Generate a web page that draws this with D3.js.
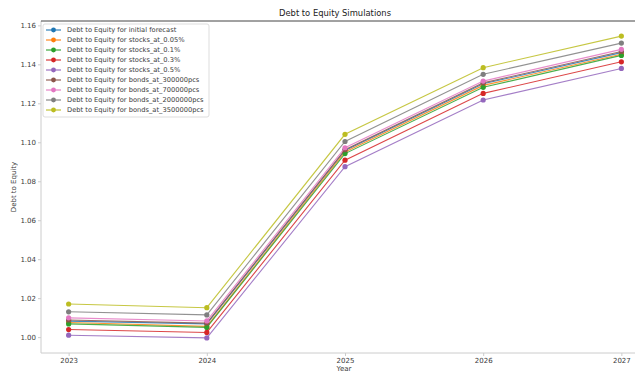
<!DOCTYPE html>
<html>
<head>
<meta charset="utf-8">
<script src="https://cdn.jsdelivr.net/npm/d3@7/dist/d3.min.js"></script>
<style>
  body { margin: 0; background: #fff; }
  svg { display: block; font-family: "DejaVu Sans", sans-serif; }
</style>
</head>
<body>
<svg id="chart" width="635" height="372"></svg>
<script>
// Years on the x axis
const years = [2023, 2024, 2025, 2026, 2027];

// Legend labels, one per simulation
const seriesNames = [
  "Debt to Equity for initial forecast",
  "Debt to Equity for stocks_at_0.05%",
  "Debt to Equity for stocks_at_0.1%",
  "Debt to Equity for stocks_at_0.3%",
  "Debt to Equity for stocks_at_0.5%",
  "Debt to Equity for bonds_at_300000pcs",
  "Debt to Equity for bonds_at_700000pcs",
  "Debt to Equity for bonds_at_2000000pcs",
  "Debt to Equity for bonds_at_3500000pcs"
];

// Debt-to-equity ratio per simulation, by year
const initialForecast = [1.0082, 1.0068, 1.0958, 1.1300, 1.1460];
const stocks005 = [1.0075, 1.0055, 1.0950, 1.1292, 1.1452];
const stocks01 = [1.0068, 1.0050, 1.0942, 1.1282, 1.1446];
const stocks03 = [1.0039, 1.0024, 1.0908, 1.1251, 1.1413];
const stocks05 = [1.0010, 0.9996, 1.0875, 1.1217, 1.1379];
const bonds300k = [1.0088, 1.0072, 1.0962, 1.1305, 1.1466];
const bonds700k = [1.0099, 1.0083, 1.0972, 1.1314, 1.1477];
const bonds2m = [1.0130, 1.0114, 1.1004, 1.1349, 1.1509];
const bonds3500k = [1.0170, 1.0151, 1.1041, 1.1383, 1.1545];

// Y tick values
const yTicks = [1.00, 1.02, 1.04, 1.06, 1.08, 1.10, 1.12, 1.14, 1.16];

const colors = ["#1f77b4", "#ff7f0e", "#2ca02c", "#d62728", "#9467bd",
                "#8c564b", "#e377c2", "#7f7f7f", "#bcbd22"];

const seriesValues = [initialForecast, stocks005, stocks01, stocks03, stocks05,
                      bonds300k, bonds700k, bonds2m, bonds3500k];
const series = seriesNames.map((name, i) => ({
  name, color: colors[i],
  points: years.map((y, j) => ({ year: y, value: seriesValues[i][j] }))
}));

const svg = d3.select("#chart");
const plot = { left: 41, right: 649, top: 21, bottom: 353 };

const x = d3.scaleLinear().domain([2022.8, 2027.2]).range([plot.left, plot.right]);
const yMin = 0.9996, yMax = 1.1545, pad = (yMax - yMin) * 0.05;
const y = d3.scaleLinear().domain([yMin - pad, yMax + pad]).range([plot.bottom, plot.top]);

const axisColor = "#cccccc";
const textColor = "#3a3a3a";

// Axes
const xAxis = svg.append("g")
  .attr("transform", `translate(0,${plot.bottom})`)
  .call(d3.axisBottom(x).tickValues(years).tickFormat(d3.format("d")).tickSize(3).tickPadding(2));
const yAxis = svg.append("g")
  .attr("transform", `translate(${plot.left},0)`)
  .call(d3.axisLeft(y).tickValues(yTicks).tickFormat(d3.format(".2f")).tickSize(3).tickPadding(2));

[xAxis, yAxis].forEach(g => {
  g.select(".domain").attr("stroke", axisColor);
  g.selectAll(".tick line").attr("stroke", axisColor);
  g.selectAll(".tick text").attr("fill", textColor).attr("font-size", 7)
    .attr("font-family", "DejaVu Sans");
});
yAxis.select(".domain").attr("d", `M0,${plot.top}V${plot.bottom}`);
xAxis.select(".domain").attr("d", `M${plot.left},0H${plot.right}`);

// Top frame line
svg.append("line")
  .attr("x1", plot.left).attr("x2", plot.right)
  .attr("y1", plot.top).attr("y2", plot.top)
  .attr("stroke", "#444").attr("stroke-width", 1);

// Lines and markers
const line = d3.line().x(d => x(d.year)).y(d => y(d.value));
const g = svg.append("g");
series.forEach(s => {
  g.append("path").datum(s.points)
    .attr("d", line).attr("fill", "none")
    .attr("stroke", s.color).attr("stroke-width", 1.1).attr("stroke-opacity", 0.85);
  g.selectAll(null).data(s.points).enter().append("circle")
    .attr("cx", d => x(d.year)).attr("cy", d => y(d.value))
    .attr("r", 2.6).attr("fill", s.color);
});

// Title and axis labels
svg.append("text").attr("x", 335).attr("y", 16).attr("text-anchor", "middle")
  .attr("font-size", 8.4).attr("fill", "#222").text("Debt to Equity Simulations");
svg.append("text").attr("x", 344).attr("y", 371).attr("text-anchor", "middle")
  .attr("font-size", 7).attr("fill", textColor).text("Year");
svg.append("text").attr("transform", "translate(16,187) rotate(-90)")
  .attr("text-anchor", "middle").attr("font-size", 7).attr("fill", textColor)
  .text("Debt to Equity");

// Legend
const legend = svg.append("g").attr("transform", "translate(43,24)");
legend.append("rect").attr("width", 166).attr("height", 93).attr("rx", 2)
  .attr("fill", "#fff").attr("fill-opacity", 0.8).attr("stroke", "#dddddd");
series.forEach((s, i) => {
  const row = legend.append("g").attr("transform", `translate(0,${6 + i * 10})`);
  row.append("line").attr("x1", 3).attr("x2", 18).attr("y1", 0).attr("y2", 0)
    .attr("stroke", s.color).attr("stroke-width", 1.1);
  row.append("circle").attr("cx", 10.5).attr("cy", 0).attr("r", 2.4).attr("fill", s.color);
  row.append("text").attr("x", 24).attr("y", 2.3).attr("font-size", 6.7)
    .attr("fill", textColor).text(s.name);
});
</script>
</body>
</html>
